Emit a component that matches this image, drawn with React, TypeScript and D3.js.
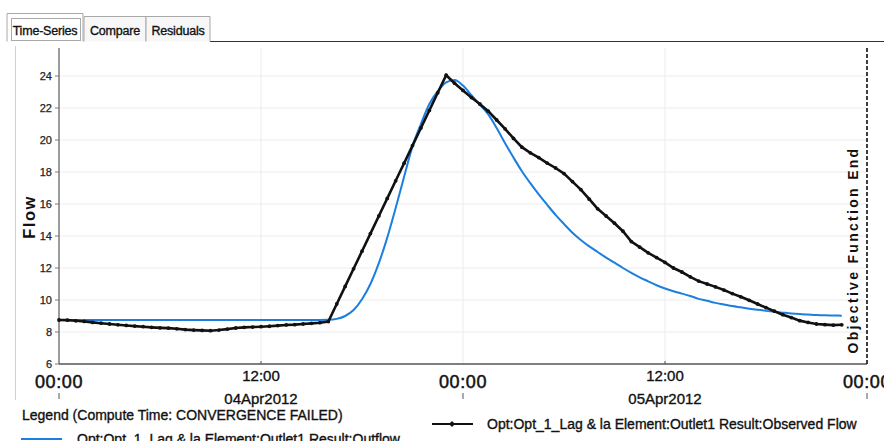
import React from "react";
import * as d3 from "d3";

// half-hourly samples starting 04Apr2012 00:00
const startTime = new Date(2012, 3, 4, 0, 0);
const stepMinutes = 30;

const outflow = [
  8.75, 8.75, 8.75, 8.75, 8.75, 8.75, 8.75, 8.75, 8.75, 8.75, 8.75, 8.75, 8.75, 8.75, 8.75, 8.75,
  8.75, 8.75, 8.75, 8.75, 8.75, 8.75, 8.75, 8.75, 8.75, 8.75, 8.75, 8.75, 8.75, 8.75, 8.75, 8.75,
  8.76, 8.82, 9.0, 9.37, 10.05, 11.0, 12.3, 13.9, 15.75, 17.7, 19.6, 21.0, 22.25, 23.05, 23.6, 23.75,
  23.4, 22.8, 22.2, 21.6, 20.75, 19.8, 18.9, 18.05, 17.3, 16.6, 15.95, 15.32, 14.75, 14.2, 13.75, 13.35,
  13.0, 12.65, 12.33, 12.0, 11.7, 11.42, 11.17, 10.92, 10.72, 10.55, 10.4, 10.25, 10.07, 9.95, 9.82, 9.72,
  9.62, 9.54, 9.46, 9.39, 9.32, 9.26, 9.21, 9.16, 9.12, 9.09, 9.06, 9.04, 9.03, 9.02,
];

const observed = [
  8.75, 8.74, 8.7, 8.66, 8.6, 8.55, 8.5, 8.45, 8.41, 8.37, 8.33, 8.29, 8.26, 8.24, 8.2, 8.15,
  8.12, 8.1, 8.08, 8.12, 8.18, 8.25, 8.29, 8.31, 8.33, 8.36, 8.4, 8.44, 8.46, 8.5, 8.54, 8.58,
  8.65, 9.75, 10.85, 11.95, 13.05, 14.15, 15.25, 16.35, 17.45, 18.55, 19.65, 20.75, 21.85, 22.95, 24.05, 23.55,
  23.1, 22.65, 22.25, 21.8, 21.25, 20.7, 20.1, 19.55, 19.2, 18.9, 18.56, 18.25, 17.9, 17.4, 16.9, 16.3,
  15.7, 15.25, 14.8, 14.3, 13.65, 13.3, 12.95, 12.65, 12.35, 12.0, 11.75, 11.45, 11.18, 11.0, 10.82, 10.62,
  10.4, 10.2, 9.98, 9.75, 9.52, 9.3, 9.08, 8.9, 8.71, 8.6, 8.5, 8.46, 8.43, 8.45,
];

const yTicks = [6, 8, 10, 12, 14, 16, 18, 20, 22, 24];
const dayLabels = ["04Apr2012", "05Apr2012"];
const tabNames = ["Time-Series", "Compare", "Residuals"];
const outflowName = "Opt:Opt_1_Lag & la Element:Outlet1 Result:Outflow";
const observedName = "Opt:Opt_1_Lag & la Element:Outlet1 Result:Observed Flow";

const W = 884;
const H = 441;
const left = 59, right = 867, top = 48, bottom = 364;
const font = "'Liberation Sans', Arial, sans-serif";
const blue = "#1b7fe0";
// the screenshot text is heavy, thicken a bit
const heavy = { stroke: "#111", strokeWidth: 0.35 };

export default function App() {
  const endTime = d3.timeHour.offset(startTime, 48);
  const x = d3.scaleTime().domain([startTime, endTime]).range([left, right]);
  const y = d3.scaleLinear().domain([6, 25.75]).range([bottom, top]);

  const timeAt = (i: number) => d3.timeMinute.offset(startTime, i * stepMinutes);
  const line = d3
    .line<number>()
    .x((d, i) => x(timeAt(i)))
    .y((d) => y(d))
    .curve(d3.curveMonotoneX);
  const obsLine = d3
    .line<number>()
    .x((d, i) => x(timeAt(i)))
    .y((d) => y(d));

  const midnights = x.ticks(d3.timeHour.every(24)!);
  const noons = d3.timeHour.every(12)!.range(startTime, endTime).filter((t) => t.getHours() === 12);

  const tabs = [
    { x0: 7, x1: 83, y0: 13 },
    { x0: 84, x1: 146, y0: 16 },
    { x0: 146, x1: 210, y0: 16 },
  ];

  return (
    <div style={{ position: "fixed", left: 0, top: 0 }}>
      <svg width={W} height={H} style={{ display: "block", background: "#fff" }} fontFamily={font}>
        {/* tabs */}
        <line x1={210} x2={W} y1={41.5} y2={41.5} stroke="#333" strokeWidth={1} />
        {tabs.map((t, i) => (
          <g key={tabNames[i]}>
            <path
              d={`M${t.x0},41.5V${t.y0 + 0.5}H${t.x1}V41.5`}
              fill={i === 0 ? "#fff" : "#f7f7f7"}
              stroke="#a8a8a8"
            />
            {i === 0 && (
              <rect x={11.5} y={18.5} width={69} height={22} fill="none" stroke="#555" strokeDasharray="1,1" />
            )}
            <text
              x={(t.x0 + t.x1) / 2}
              y={35}
              textAnchor="middle"
              fontSize={12.5}
              letterSpacing={-0.2}
              fill="#111"
              {...heavy}
            >
              {tabNames[i]}
            </text>
          </g>
        ))}

        {/* faint frame line */}
        <line x1={15.5} x2={15.5} y1={46} y2={400} stroke="#d0d0d0" />

        {/* grid */}
        {yTicks.slice(1).map((v) => (
          <line key={v} x1={left} x2={right} y1={y(v)} y2={y(v)} stroke="#ececec" />
        ))}
        {d3.timeHour.every(12)!.range(d3.timeHour.offset(startTime, 1), endTime).map((t) => (
          <line key={+t} x1={x(t)} x2={x(t)} y1={top} y2={bottom} stroke="#ececec" />
        ))}

        {/* y axis */}
        <line x1={left} x2={left} y1={top} y2={bottom} stroke="#7a7a7a" strokeWidth={1.5} />
        {yTicks.map((v) => (
          <g key={v} transform={`translate(0,${y(v)})`}>
            <line x1={left - 4} x2={left} stroke="#7a7a7a" />
            <text x={left - 7} dy="0.35em" textAnchor="end" fontSize={11} fill="#222" stroke="#222" strokeWidth={0.25}>
              {v}
            </text>
          </g>
        ))}
        <text
          transform={`translate(35,217) rotate(-90)`}
          textAnchor="middle"
          fontSize={16.5}
          fontWeight="bold"
          letterSpacing={1.5}
          fill="#111"
        >
          Flow
        </text>

        {/* x axis */}
        <line x1={left} x2={right} y1={bottom} y2={bottom} stroke="#555" strokeWidth={1.5} />
        {midnights.map((t) => (
          <g key={+t}>
            <text x={x(t)} y={388} textAnchor="middle" fontSize={18} letterSpacing={0.6} fill="#111" stroke="#111" strokeWidth={0.5}>
              00:00
            </text>
            <line x1={x(t)} x2={x(t)} y1={393} y2={399} stroke="#555" />
          </g>
        ))}
        {noons.map((t, i) => (
          <g key={+t}>
            <line x1={x(t)} x2={x(t)} y1={bottom - 3} y2={bottom} stroke="#555" />
            <text x={x(t)} y={381} textAnchor="middle" fontSize={15} fill="#111" {...heavy}>
              12:00
            </text>
            <text x={x(t)} y={404} textAnchor="middle" fontSize={15} fill="#111" {...heavy}>
              {dayLabels[i]}
            </text>
          </g>
        ))}

        {/* objective function end */}
        <line
          x1={right}
          x2={right}
          y1={top}
          y2={bottom}
          stroke="#111"
          strokeWidth={1.6}
          strokeDasharray="4,2"
        />
        <text
          transform={`translate(858,250) rotate(-90)`}
          textAnchor="middle"
          fontSize={14}
          fontWeight="bold"
          letterSpacing={2.3}
          fill="#111"
        >
          Objective Function End
        </text>

        {/* series */}
        <path d={line(outflow) ?? ""} fill="none" stroke={blue} strokeWidth={2} />
        <path d={obsLine(observed) ?? ""} fill="none" stroke="#111" strokeWidth={2.6} />
        {observed.map((v, i) => (
          <circle key={i} cx={x(timeAt(i))} cy={y(v)} r={1.9} fill="#111" />
        ))}

        {/* legend */}
        <text x={22} y={420} fontSize={14} fill="#111" {...heavy}>
          Legend (Compute Time: CONVERGENCE FAILED)
        </text>
        <line x1={21} x2={62} y1={439} y2={439} stroke={blue} strokeWidth={2} />
        <text x={77} y={444} fontSize={14} fill="#111" {...heavy}>
          {outflowName}
        </text>
        <line x1={432} x2={473} y1={424} y2={424} stroke="#111" strokeWidth={2} />
        <path d="M452,421L455,424L452,427L449,424Z" fill="#111" />
        <text x={487} y={429} fontSize={14} fill="#111" {...heavy}>
          {observedName}
        </text>
      </svg>
    </div>
  );
}
